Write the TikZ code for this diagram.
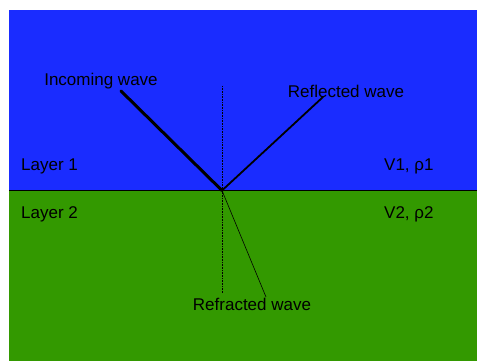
\documentclass[tikz,border=0pt]{standalone}
\usepackage{fontspec}
\setmainfont{Liberation Sans}
\usetikzlibrary{positioning}
\definecolor{Upper}{HTML}{1A2CFF}
\definecolor{Lower}{HTML}{339900}
\begin{document}
\begin{tikzpicture}[
  x=1pt,y=1pt,
  every node/.style={font=\fontsize{17}{20}\selectfont,inner sep=0pt},
  ray/.style={line width=1.6pt,line cap=round},
  axis/.style={densely dotted,line width=0.6pt}
]
  \useasboundingbox (0,0) rectangle (477,361);
  \fill[Upper] (9,170.5) rectangle (477,351);
  \fill[Lower] (9,0) rectangle (477,170.5);
  \draw[line width=0.7pt] (9,170.5) -- (477,170.5);
  % rays
  \coordinate (hit) at (222,170.5);
  \coordinate (inc) at (121,270);
  \coordinate (refl) at (323,264);
  \coordinate (refr) at (266,64);
  \coordinate (ntop) at (222,275);
  \coordinate (nbot) at (222,68);
  \draw[axis] (ntop) -- (nbot);
  \draw[ray,line width=3pt] (inc) -- (hit);
  \draw[ray,line width=1.8pt] (hit) -- (refl);
  \draw[line width=0.6pt] (hit) -- (refr);
  % labels
  \node (lblinc) at (101,280) {Incoming wave};
  \node (lblrefl) at (346,270) {Reflected wave};
  \node (lblrefr) at (252,57) {Refracted wave};
  \node[anchor=west] (top) at (21,195) {Layer 1};
  \node[anchor=west] (bot) at (21,147) {Layer 2};
  \node[anchor=west] (vtop) at (384,195) {V1, ρ1};
  \node[anchor=west] (vbot) at (384,147) {V2, ρ2};
\end{tikzpicture}
\end{document}
